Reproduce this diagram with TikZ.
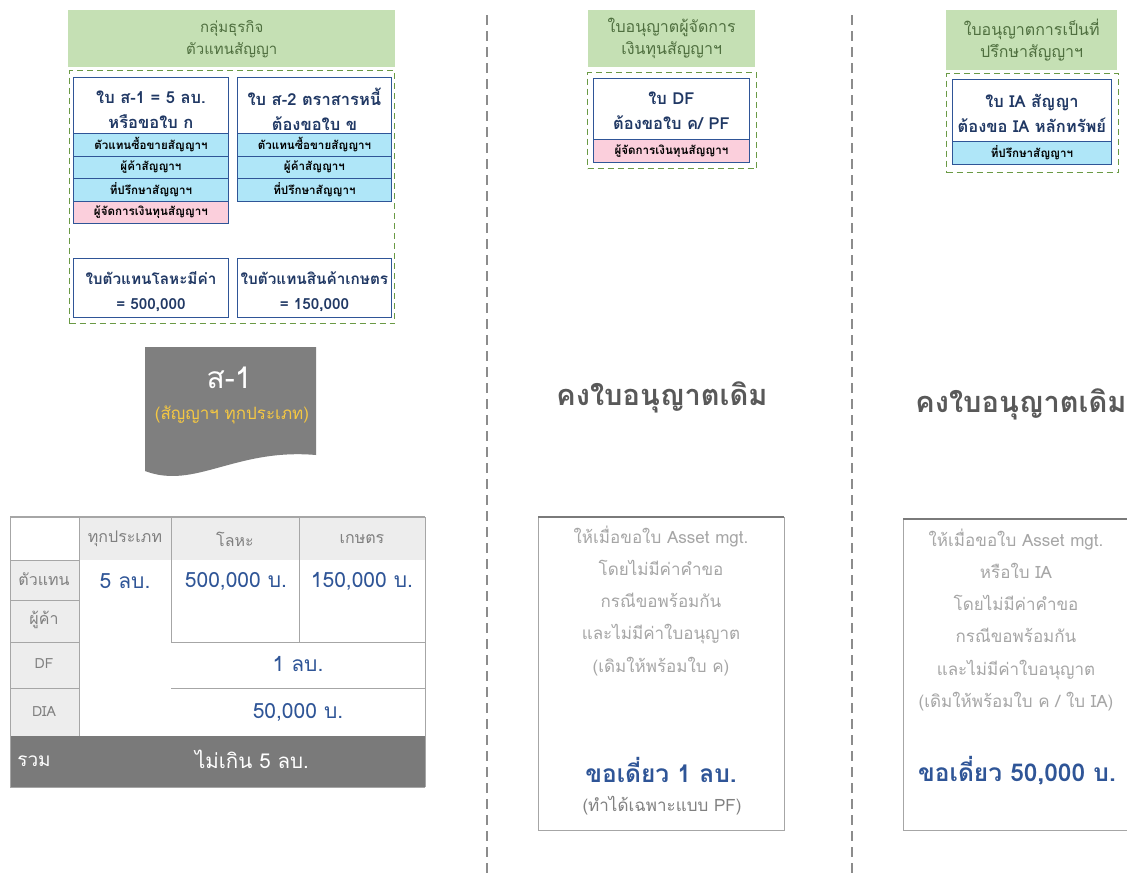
\documentclass[tikz,border=0pt]{standalone}
\usepackage{fontspec}
\setmainfont[Script=Thai]{Loma}
\newcommand\fsz[2]{\fontsize{#1}{#2}\selectfont}
\definecolor{hdrgreen}{HTML}{C5E0B4}
\definecolor{hdrtext}{HTML}{4F6F3F}
\definecolor{dashgreen}{HTML}{6A9A45}
\definecolor{navytext}{HTML}{203864}
\definecolor{navyline}{HTML}{2F5597}
\definecolor{rowcyan}{HTML}{AFE6F8}
\definecolor{rowpink}{HTML}{FBCFDC}
\definecolor{tgrey}{HTML}{EDEDED}
\definecolor{tline}{HTML}{A6A6A6}
\definecolor{tdark}{HTML}{7A7A7A}
\definecolor{docgrey}{HTML}{7F7F7F}
\definecolor{docyellow}{HTML}{F5C842}
\definecolor{valblue}{HTML}{2F5597}
\definecolor{lighttext}{HTML}{A6A6A6}
\definecolor{midtext}{HTML}{808080}
\definecolor{keeptext}{HTML}{595959}
\definecolor{vdashcol}{HTML}{8C8C8C}
\tikzset{
  hdr/.style={fill=hdrgreen, text=hdrtext, align=center, inner sep=0pt, anchor=north west, font=\fsz{16}{22}},
  gbox/.style={draw=dashgreen, dashed, dash pattern=on 6pt off 4pt, line width=1.2pt, anchor=north west, inner sep=0pt},
  licbox/.style={draw=navyline, fill=white, line width=0.9pt, inner sep=0pt, anchor=north west},
  lictext/.style={text=navytext, align=center, inner sep=0pt, font=\fsz{16.5}{25}\bfseries},
  lictextsm/.style={lictext, font=\fsz{15.3}{25}\bfseries},
  rowc/.style={draw=navyline, line width=0.9pt, text=black, inner sep=0pt, anchor=north west, font=\fsz{11.6}{13}\bfseries},
  hcell/.style={text=midtext, font=\fsz{16}{18}},
  vcell/.style={text=valblue, font=\fsz{21}{24}},
  keep/.style={text=keeptext, font=\fsz{29}{32}\bfseries},
  notebox/.style={text=lighttext, align=center, anchor=north, font=\fsz{17}{32.3}},
  big/.style={text=valblue, font=\fsz{24.5}{28}\bfseries},
  vdash/.style={draw=vdashcol, line width=2.6pt, dash pattern=on 10pt off 6pt},
}
\begin{document}
\begin{tikzpicture}[x=1pt,y=-1pt]
\useasboundingbox (0,0) rectangle (1127,873);
\fill[white] (0,0) rectangle (1127,873);

% ---------- left top group ----------
\node[hdr, minimum width=327, minimum height=57, font=\fsz{15}{22}] (h1) at (68,10) {กลุ่มธุรกิจ\\ตัวแทนสัญญา};
\node[gbox, minimum width=325, minimum height=253] (g1) at (69,70) {};
\node[licbox, minimum width=155, minimum height=56] (b1) at (73,77) {};
\node[lictext] (b1t) at ([yshift=-4pt]b1.center) {ใบ ส-1 = 5 ลบ.\\หรือขอใบ ก};
\node[rowc, fill=rowcyan, minimum width=155, minimum height=22.5] (b1r1) at (73,133) {ตัวแทนซื้อขายสัญญาฯ};
\node[rowc, fill=rowcyan, minimum width=155, minimum height=22.5] (b1r2) at (73,155.5) {ผู้ค้าสัญญาฯ};
\node[rowc, fill=rowcyan, minimum width=155, minimum height=22.5] (b1r3) at (73,178) {ที่ปรึกษาสัญญาฯ};
\node[rowc, fill=rowpink, minimum width=155, minimum height=22.5] (b1r4) at (73,200.5) {ผู้จัดการเงินทุนสัญญาฯ};
\node[licbox, minimum width=154, minimum height=56] (b2) at (237,77) {};
\node[lictext] (b2t) at ([yshift=-4pt]b2.center) {ใบ ส-2 ตราสารหนี้\\ต้องขอใบ ข};
\node[rowc, fill=rowcyan, minimum width=154, minimum height=22.5] (b2r1) at (237,133) {ตัวแทนซื้อขายสัญญาฯ};
\node[rowc, fill=rowcyan, minimum width=154, minimum height=22.5] (b2r2) at (237,155.5) {ผู้ค้าสัญญาฯ};
\node[rowc, fill=rowcyan, minimum width=154, minimum height=22.5] (b2r3) at (237,178) {ที่ปรึกษาสัญญาฯ};
\node[licbox, minimum width=155, minimum height=59] (b3) at (73,258) {};
\node[lictextsm] (b3t) at ([yshift=-4pt]b3.center) {ใบตัวแทนโลหะมีค่า\\= 500,000};
\node[licbox, minimum width=154, minimum height=59] (b4) at (237,258) {};
\node[lictextsm] (b4t) at ([yshift=-4pt]b4.center) {ใบตัวแทนสินค้าเกษตร\\= 150,000};

% ---------- document shape ----------
\fill[docgrey] (145,347) -- (316,347) -- (316,455) .. controls (235,448) and (195,490) .. (145,471) -- cycle;
\node[text=white, font=\fsz{30}{32}] (s1) at (229,378) {ส-1};
\node[text=docyellow, font=\fsz{17}{19}] (s1b) at (232,415) {(สัญญาฯ ทุกประเภท)};

% ---------- table ----------
\fill[tgrey] (79,517) rectangle (425,560);
\fill[tgrey] (10,560) rectangle (79,736);
\fill[tdark] (10,736) rectangle (425,787);
\draw[tline, line width=0.9pt] (10,517) -- (10,787) (425,517) -- (425,787)
  (79,517) -- (79,736) (171,517) -- (171,642) (299,517) -- (299,642)
  (10,560) -- (79,560) (10,600) -- (79,600) (10,642) -- (79,642) (10,688) -- (79,688)
  (171,642) -- (425,642) (171,688) -- (425,688) (10,787) -- (425,787);
\draw[tline, line width=2pt] (10,517) -- (425,517);
\node[hcell] (th1) at (125,539) {ทุกประเภท};
\node[hcell] (th2) at (235,539) {โลหะ};
\node[hcell] (th3) at (362,539) {เกษตร};
\node[hcell] (tl1) at (44,579) {ตัวแทน};
\node[hcell] (tl2) at (44,620) {ผู้ค้า};
\node[hcell, font=\fsz{14}{16}] (tl3) at (44,664) {DF};
\node[hcell, font=\fsz{14}{16}] (tl4) at (44,712) {DIA};
\node[vcell] (tv1) at (125,581) {5 ลบ.};
\node[vcell] (tv2) at (236,581) {500,000 บ.};
\node[vcell] (tv3) at (362,581) {150,000 บ.};
\node[vcell] (tv4) at (298,664) {1 ลบ.};
\node[vcell] (tv5) at (298,712) {50,000 บ.};
\node[text=white, font=\fsz{19}{21}] (tsum) at (34,761) {รวม};
\node[text=white, font=\fsz{20.5}{23}] (tsumv) at (252,759) {ไม่เกิน 5 ลบ.};

% ---------- dashed separators ----------
\draw[vdash] (487,15) -- (487,873);
\draw[vdash] (852,15) -- (852,873);

% ---------- middle top ----------
\node[hdr, minimum width=167, minimum height=57] (h2) at (588,10) {ใบอนุญาตผู้จัดการ\\เงินทุนสัญญาฯ};
\node[gbox, minimum width=169, minimum height=96] (g2) at (587,72) {};
\node[licbox, minimum width=156, minimum height=61] (c1) at (593,78) {};
\node[lictext] (c1t) at ([yshift=-1.5pt]c1.center) {ใบ DF\\ต้องขอใบ ค/ PF};
\node[rowc, fill=rowpink, minimum width=156, minimum height=23] (c1r1) at (593,139) {ผู้จัดการเงินทุนสัญญาฯ};

% ---------- right top ----------
\node[hdr, minimum width=171, minimum height=60] (h3) at (946,10) {ใบอนุญาตการเป็นที่\\ปรึกษาสัญญาฯ};
\node[gbox, minimum width=172, minimum height=99] (g3) at (946,73) {};
\node[licbox, minimum width=159, minimum height=62] (d1) at (952,79) {};
\node[lictext] (d1t) at ([yshift=-2.5pt]d1.center) {ใบ IA สัญญา\\ต้องขอ IA หลักทรัพย์};
\node[rowc, fill=rowcyan, minimum width=159, minimum height=23] (d1r1) at (952,141) {ที่ปรึกษาสัญญาฯ};

% ---------- keep licence texts ----------
\node[keep] (k1) at (662,397) {คงใบอนุญาตเดิม};
\node[keep] (k2) at (1021,404) {คงใบอนุญาตเดิม};

% ---------- bottom note boxes ----------
\draw[tline, line width=0.9pt] (538,517) rectangle (784,830);
\draw[tdark, line width=2pt] (538,517) -- (784,517);
\node[notebox] (n1) at (661,522) {ให้เมื่อขอใบ Asset mgt.\\โดยไม่มีค่าคำขอ\\กรณีขอพร้อมกัน\\และไม่มีค่าใบอนุญาต\\(เดิมให้พร้อมใบ ค)};
\node[big] (n1b) at (661,770) {ขอเดี่ยว 1 ลบ.};
\node[text=midtext, font=\fsz{17}{19}] (n1c) at (662,806) {(ทำได้เฉพาะแบบ PF)};

\draw[tline, line width=0.9pt] (1127,830) -- (903,830) -- (903,519);
\draw[tdark, line width=2pt] (903,519) -- (1127,519);
\node[notebox] (n2) at (1016,525) {ให้เมื่อขอใบ Asset mgt.\\หรือใบ IA\\โดยไม่มีค่าคำขอ\\กรณีขอพร้อมกัน\\และไม่มีค่าใบอนุญาต\\(เดิมให้พร้อมใบ ค / ใบ IA)};
\node[big] (n2b) at (1017,771) {ขอเดี่ยว 50,000 บ.};
\end{tikzpicture}
\end{document}
